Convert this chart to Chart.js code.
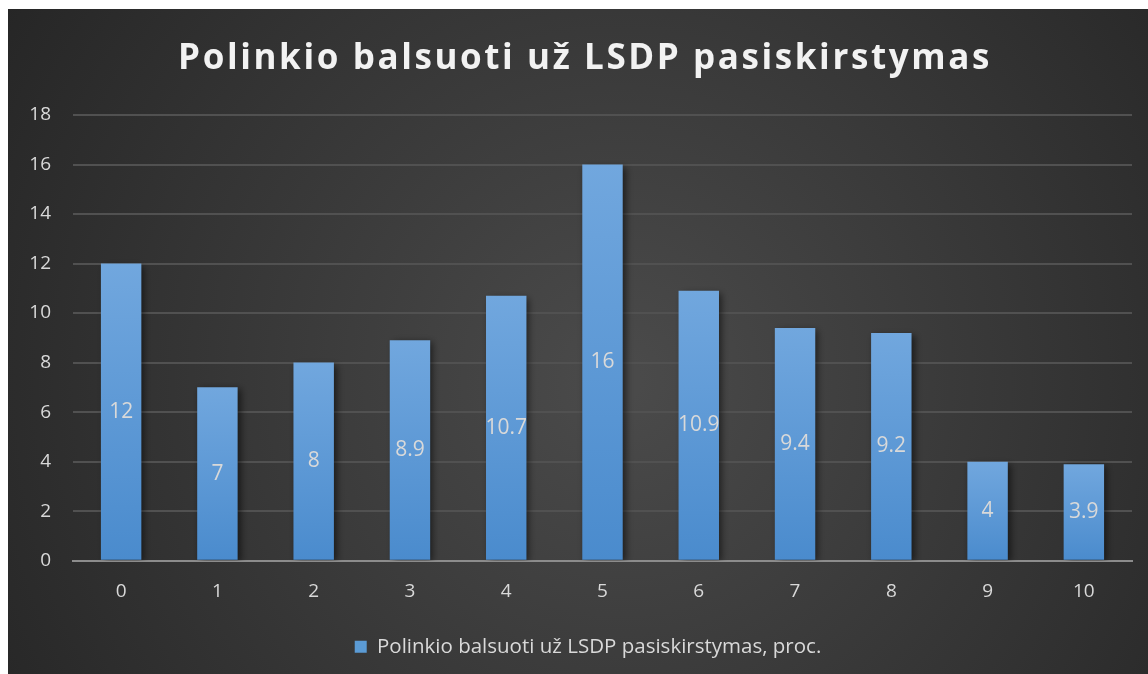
<!DOCTYPE html>
<html>
<head>
<meta charset="utf-8">
<script src="https://cdn.jsdelivr.net/npm/chart.js@4/dist/chart.umd.min.js"></script>
<style>
  html, body { margin: 0; padding: 0; background: #fff; }
  canvas { display: block; }
</style>
</head>
<body>
<canvas id="chart" width="1148" height="674"></canvas>
<script>
const categories = ['0', '1', '2', '3', '4', '5', '6', '7', '8', '9', '10'];
const shares = [12, 7, 8, 8.9, 10.7, 16, 10.9, 9.4, 9.2, 4, 3.9];
const y_ticks = [0, 2, 4, 6, 8, 10, 12, 14, 16, 18];
const chart_title = 'Polinkio balsuoti už LSDP pasiskirstymas';
const series_label = 'Polinkio balsuoti už LSDP pasiskirstymas, proc.';

const font_family = "'Open Sans', 'Liberation Sans', sans-serif";
const text_color = '#d9d9d9';
const title_font = 'bold 35px ' + font_family;

// dark panel with a soft light spot, white strip on top/left like the screenshot
const background_plugin = {
    id: 'panel_bg',
    beforeDraw(chart) {
        const ctx = chart.ctx;
        ctx.save();
        ctx.fillStyle = '#ffffff';
        ctx.fillRect(0, 0, chart.width, chart.height);
        const grad = ctx.createRadialGradient(620, 380, 20, 620, 380, 720);
        grad.addColorStop(0, '#4a4a4a');
        grad.addColorStop(1, '#262626');
        ctx.fillStyle = grad;
        ctx.fillRect(8, 9, chart.width - 8, chart.height - 9);
        ctx.restore();
    }
};

// the built-in title only reserves the space; the text itself is drawn spaced out
const spaced_title_plugin = {
    id: 'spaced_title',
    afterDraw(chart) {
        const block = chart.titleBlock;
        if (!block) return;
        const ctx = chart.ctx;
        ctx.save();
        ctx.font = title_font;
        ctx.letterSpacing = '2.6px';
        ctx.fillStyle = '#f2f2f2';
        ctx.textAlign = 'center';
        ctx.textBaseline = 'middle';
        const pad = block.options.padding;
        const mid = block.top + pad.top + (block.height - pad.top - pad.bottom) / 2 + 3;
        ctx.fillText(chart_title, (block.left + block.right) / 2 + 15, mid);
        ctx.restore();
    }
};

// legend sits a bit right of the plot centre in the original
const legend_shift_plugin = {
    id: 'legend_shift',
    afterLayout(chart) {
        if (chart.legend) {
            chart.legend.left += 18;
            chart.legend.right += 18;
        }
    }
};

const shadow_plugin = {
    id: 'bar_shadow',
    beforeDatasetDraw(chart) {
        const ctx = chart.ctx;
        ctx.save();
        ctx.shadowColor = 'rgba(0, 0, 0, 0.55)';
        ctx.shadowBlur = 7;
        ctx.shadowOffsetX = 3;
        ctx.shadowOffsetY = 2;
    },
    afterDatasetDraw(chart) {
        chart.ctx.restore();
    }
};

// value labels centred in each bar
const value_labels_plugin = {
    id: 'value_labels',
    afterDatasetsDraw(chart) {
        const ctx = chart.ctx;
        const meta = chart.getDatasetMeta(0);
        ctx.save();
        ctx.font = '21px ' + font_family;
        ctx.fillStyle = text_color;
        ctx.textAlign = 'center';
        ctx.textBaseline = 'middle';
        meta.data.forEach((bar, i) => {
            const mid = (bar.y + bar.base) / 2;
            ctx.fillText(String(shares[i]), bar.x, mid);
        });
        ctx.restore();
    }
};

function bar_fill(context) {
    const chart = context.chart;
    if (!chart.chartArea || context.dataIndex === undefined) return '#5b9bd5';
    const y = chart.scales.y;
    const top = y.getPixelForValue(shares[context.dataIndex]);
    const bottom = y.getPixelForValue(0);
    const grad = chart.ctx.createLinearGradient(0, top, 0, bottom);
    grad.addColorStop(0, '#71a7de');
    grad.addColorStop(1, '#4a8bcd');
    return grad;
}

const ctx = document.getElementById('chart');
new Chart(ctx, {
    type: 'bar',
    plugins: [background_plugin, legend_shift_plugin, shadow_plugin, value_labels_plugin, spaced_title_plugin],
    data: {
        labels: categories,
        datasets: [{
            label: series_label,
            data: shares,
            backgroundColor: bar_fill,
            borderWidth: 0,
            categoryPercentage: 1,
            barPercentage: 0.42
        }]
    },
    options: {
        responsive: false,
        animation: false,
        layout: {
            padding: { left: 8, right: 16, top: 20, bottom: 7 }
        },
        scales: {
            x: {
                grid: { display: false, drawTicks: false },
                border: { display: true, color: '#8c8c8c', width: 2 },
                ticks: {
                    color: text_color,
                    font: { family: font_family, size: 19 },
                    padding: 19
                }
            },
            y: {
                min: 0,
                max: 18,
                afterBuildTicks(scale) {
                    scale.ticks = y_ticks.map(v => ({ value: v }));
                },
                afterFit(scale) {
                    scale.width = 65;
                },
                grid: { color: '#515151', lineWidth: 2, drawTicks: false },
                border: { display: false },
                ticks: {
                    color: text_color,
                    font: { family: font_family, size: 19 },
                    padding: 22
                }
            }
        },
        plugins: {
            title: {
                display: true,
                text: chart_title,
                color: 'rgba(0,0,0,0)',
                font: { family: font_family, size: 35, weight: 'bold' },
                padding: { top: 15, bottom: 38 }
            },
            legend: {
                position: 'bottom',
                labels: {
                    color: text_color,
                    font: { family: font_family, size: 20.5 },
                    boxWidth: 12,
                    boxHeight: 12,
                    padding: 15,
                    generateLabels(chart) {
                        return [{
                            text: series_label,
                            fillStyle: '#5b9bd5',
                            strokeStyle: '#5b9bd5',
                            lineWidth: 0,
                            fontColor: text_color,
                            datasetIndex: 0
                        }];
                    }
                }
            },
            tooltip: { enabled: false }
        }
    }
});
</script>
</body>
</html>
